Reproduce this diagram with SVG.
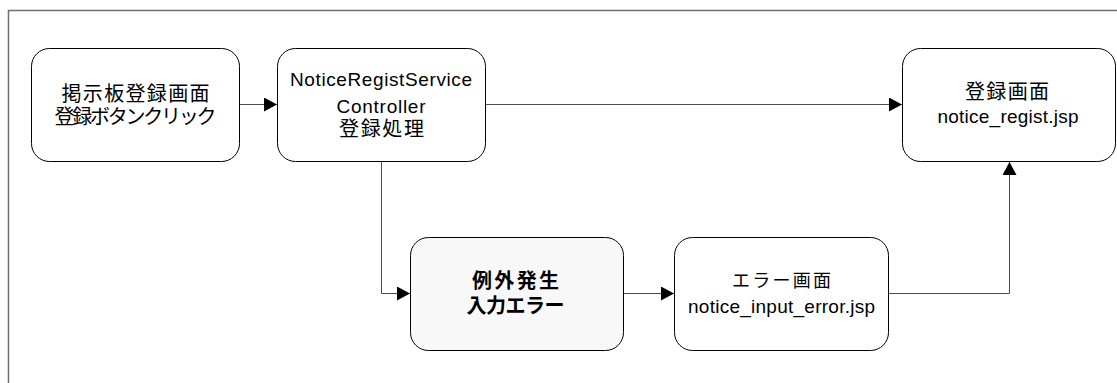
<svg xmlns="http://www.w3.org/2000/svg" width="1117" height="383" viewBox="0 0 1117 383">
<style>
.frame{fill:#fff;stroke:#6e6e6e;stroke-width:1.5}
.node rect{fill:#fff;stroke:#000;stroke-width:1}
#n3 rect{fill:#f8f8f8}
text{font-family:"Liberation Sans","Noto Sans CJK JP",sans-serif;font-size:19px;fill:#000;text-anchor:middle}
.jp{font-size:20px}
.b{font-weight:bold}
.conn path{fill:none;stroke:#4d4d4d;stroke-width:1}
</style>
<defs>
<marker id="arr" markerUnits="userSpaceOnUse" markerWidth="13" markerHeight="14" refX="13" refY="7" orient="auto">
<path d="M0,0 L13,7 L0,14 Z" fill="#000"/>
</marker>
</defs>
<rect x="0" y="0" width="1117" height="383" fill="#fff"/>
<rect class="frame" x="8.5" y="10.5" width="1130" height="400"/>
<g class="conn">
<path d="M239.5,104.5 H277" marker-end="url(#arr)"/>
<path d="M485.5,104.5 H902" marker-end="url(#arr)"/>
<path d="M381.5,161.5 V293.5 H410" marker-end="url(#arr)"/>
<path d="M623.5,293.5 H674" marker-end="url(#arr)"/>
<path d="M888.5,293.5 H1009.5 V162" marker-end="url(#arr)"/>
</g>
<g id="n1" class="node">
<rect x="31.5" y="48.5" width="208" height="113" rx="18"/>
<text class="jp" x="135.5" y="100.5" textLength="148" lengthAdjust="spacing">掲示板登録画面</text>
<text class="jp" x="135.5" y="123.5" textLength="162" lengthAdjust="spacing">登録ボタンクリック</text>
</g>
<g id="n2" class="node">
<rect x="277.5" y="48.5" width="208" height="113" rx="18"/>
<text x="381" y="86" textLength="182" lengthAdjust="spacing">NoticeRegistService</text>
<text x="381" y="113" textLength="89" lengthAdjust="spacing">Controller</text>
<text class="jp" x="381.5" y="135.5" textLength="85" lengthAdjust="spacing">登録処理</text>
</g>
<g id="n3" class="node">
<rect x="410.5" y="237.5" width="213" height="113" rx="18"/>
<text class="jp b" x="515.5" y="287.5" textLength="87" lengthAdjust="spacing">例外発生</text>
<text class="jp b" x="515.5" y="312.5" textLength="98" lengthAdjust="spacing">入力エラー</text>
</g>
<g id="n4" class="node">
<rect x="674.5" y="237.5" width="214" height="113" rx="18"/>
<text class="jp" x="781.5" y="287" textLength="99" lengthAdjust="spacing" style="font-size:18px">エラー画面</text>
<text x="781.5" y="313" textLength="187" lengthAdjust="spacing">notice_input_error.jsp</text>
</g>
<g id="n5" class="node">
<rect x="902.5" y="48.5" width="213" height="113" rx="18"/>
<text class="jp" x="1007" y="99" textLength="84" lengthAdjust="spacing">登録画面</text>
<text x="1008" y="123.3" textLength="141" lengthAdjust="spacing">notice_regist.jsp</text>
</g>
</svg>
